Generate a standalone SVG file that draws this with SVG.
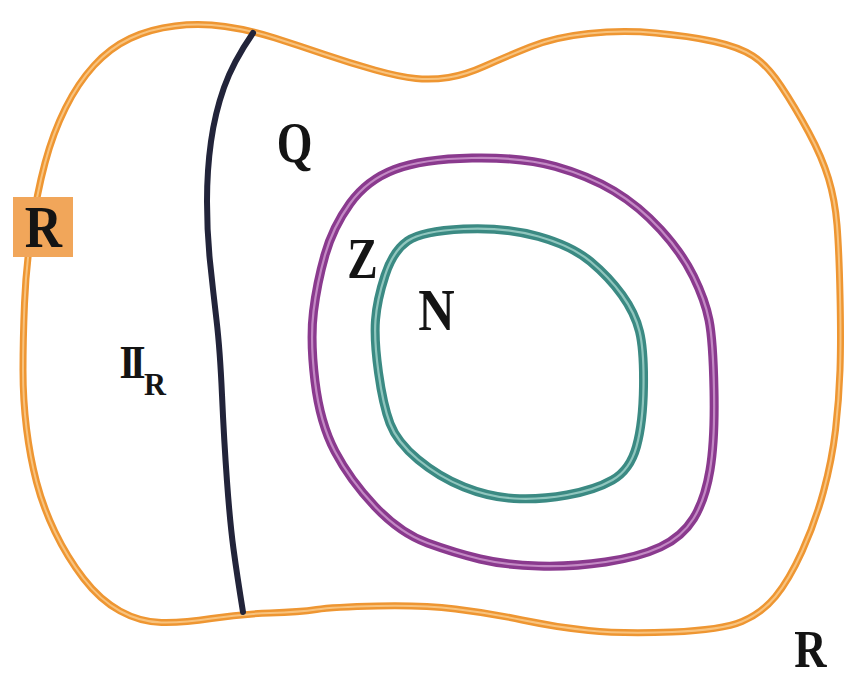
<svg xmlns="http://www.w3.org/2000/svg" width="844" height="680" viewBox="0 0 844 680">
<style>
.lbl{font-family:"Liberation Serif","Times New Roman",serif;font-weight:bold;fill:#141414;text-anchor:middle}
.o1{fill:none;stroke:#ee9632;stroke-width:7;stroke-linejoin:round}
.o2{fill:none;stroke:#f8c37e;stroke-width:2}
.p1{fill:none;stroke:#8a3a8e;stroke-width:9}
.p2{fill:none;stroke:#c389c4;stroke-width:2.2}
.t1{fill:none;stroke:#3b8a83;stroke-width:9}
.t2{fill:none;stroke:#90c6be;stroke-width:2.2}
.nv{fill:none;stroke:#22243a;stroke-width:6;stroke-linecap:round}
</style>
<defs>
<path id="pR" d="M23,370 Q23,340 24.5,303.5 Q26,267 31.5,230 Q37,193 45,163 Q53,133 65.5,108 Q78,83 94,65.5 Q110,48 130,38.5 Q150,29 175,26 Q200,23 225,26.5 Q250,30 275,38 Q300,46 325,54.5 Q350,63 375,70 Q400,77 416,78.5 Q432,80 448.5,77.5 Q465,75 485,66 Q505,57 530,47 Q555,37 588.5,33.5 Q622,30 655.5,33 Q689,36 714,41.5 Q739,47 753,56 Q767,65 781,86 Q795,107 808.5,132 Q822,157 828.5,178.5 Q835,200 837,225 Q839,250 840,295 Q841,340 840,370 Q839,400 835.5,430 Q832,460 823.5,491.5 Q815,523 802,551.5 Q789,580 775.5,596.5 Q762,613 742,621.5 Q722,630 672,632 Q622,634 588.5,630.5 Q555,627 522,620 Q489,613 455.5,609 Q422,605 377.5,606 Q333,607 316.5,609.5 Q300,612 270,613 Q240,614 211.5,618.5 Q183,623 161.5,622.5 Q140,622 120,611 Q100,600 83.5,578.5 Q67,557 55,532 Q43,507 36.5,482 Q30,457 26.5,428.5 Q23,400 23,370 Z"/>
<path id="pZ" d="M394.5,169.5 Q422,159 472,158 Q522,157 555.5,166.5 Q589,176 614,191 Q639,206 660.5,229.5 Q682,253 693.5,276.5 Q705,300 709,320 Q713,340 714,390 Q715,440 710,470 Q705,500 693.5,518.5 Q682,537 660.5,547 Q639,557 605.5,562 Q572,567 538.5,566 Q505,565 480,559 Q455,553 427.5,543 Q400,533 375,506.5 Q350,480 335,451.5 Q320,423 315,381.5 Q310,340 313.5,311.5 Q317,283 325,255 Q333,227 350,203.5 Q367,180 394.5,169.5 Z"/>
<path id="pN" d="M407.5,241 Q422,231 463.5,229 Q505,227 538.5,236.5 Q572,246 590.5,261.5 Q609,277 622,295 Q635,313 639.5,331.5 Q644,350 643.5,386.5 Q643,423 636.5,446.5 Q630,470 612.5,480 Q595,490 567,495 Q539,500 514,498.5 Q489,497 464,487 Q439,477 418,459.5 Q397,442 390,423.5 Q383,405 378.5,372.5 Q374,340 375.5,320 Q377,300 385,275.5 Q393,251 407.5,241 Z"/>
</defs>
<rect width="844" height="680" fill="#ffffff"/>
<g id="real">
<use href="#pR" class="o1"/>
<use href="#pR" class="o2"/>
<rect x="13" y="197" width="60" height="60" fill="#f1a65a"/>
<text class="lbl" font-size="60" transform="translate(43.5,247) scale(0.86,1)">R</text>
<text class="lbl" font-size="52" transform="translate(810.5,667) scale(0.86,1)">R</text>
</g>
<g id="connectors">
<path class="nv" d="M253,33 Q233,62 224,87.5 Q215,113 211,141.5 Q207,170 207,201.5 Q207,233 210,261.5 Q213,290 216.5,320 Q220,350 222,395 Q224,440 227,481.5 Q230,523 233.5,549 Q237,575 243,612"/>
</g>
<g id="irrational">
<text class="lbl" font-size="47" letter-spacing="-6" transform="translate(130,378) scale(0.85,1)">II</text>
<text class="lbl" font-size="32" transform="translate(155,395) scale(0.95,1)">R</text>
</g>
<g id="rational">
<text class="lbl" font-size="56" transform="translate(294.5,162) scale(0.82,1)">Q</text>
</g>
<g id="integers">
<use href="#pZ" class="p1"/>
<use href="#pZ" class="p2"/>
<text class="lbl" font-size="57" transform="translate(362.5,278) scale(0.8,1)">Z</text>
</g>
<g id="naturals">
<use href="#pN" class="t1"/>
<use href="#pN" class="t2"/>
<text class="lbl" font-size="60" transform="translate(436.5,330) scale(0.84,1)">N</text>
</g>
</svg>
